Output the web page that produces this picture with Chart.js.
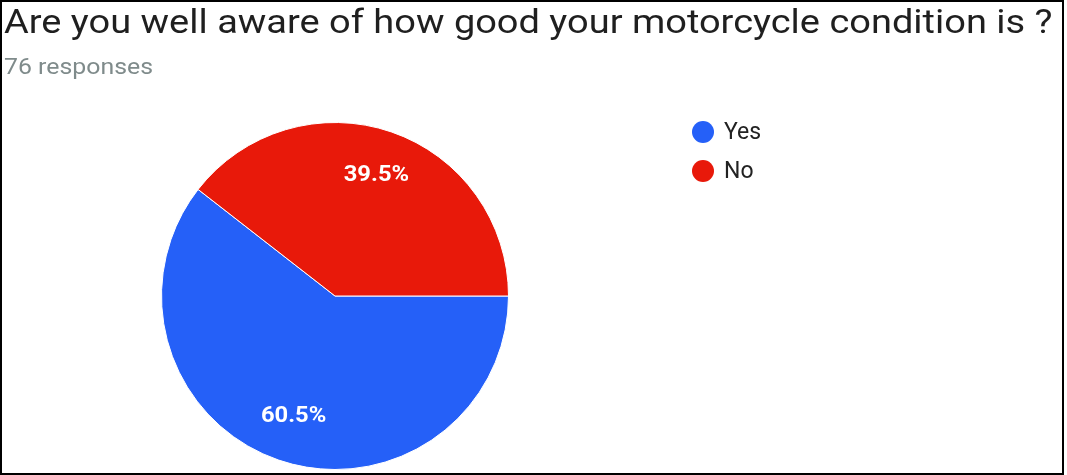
<!DOCTYPE html>
<html>
<head>
<meta charset="utf-8">
<script src="https://cdn.jsdelivr.net/npm/chart.js@4.4.0/dist/chart.umd.min.js"></script>
<style>
  html, body { margin: 0; padding: 0; background: #fff; }
  #wrap { position: relative; width: 1067px; height: 475px; overflow: hidden; }
  #frame { position: absolute; left: 0; top: 0; width: 1060px; height: 471px; border: 2px solid #000; }
  #title { position: absolute; left: 4px; top: 4px; font-family: Roboto, sans-serif; font-size: 34px; line-height: 34px; color: #1f1f1f; white-space: nowrap; transform: scaleX(1.117); transform-origin: 0 0; }
  #sub { position: absolute; left: 4px; top: 56px; font-family: Roboto, sans-serif; font-size: 22px; line-height: 22px; color: #7f8b8b; white-space: nowrap; transform: scaleX(1.13); transform-origin: 0 0; }
  .leg { position: absolute; left: 692px; height: 24px; font-family: Roboto, sans-serif; font-size: 23px; line-height: 24px; color: #222; white-space: nowrap; }
  .leg .dot { position: absolute; left: 0; top: 1px; width: 22px; height: 22px; border-radius: 50%; }
  .leg span.t { position: absolute; left: 32px; top: 0; }
  canvas { position: absolute; left: 0; top: 0; }
</style>
</head>
<body>
<div id="wrap">
  <canvas id="c" width="1067" height="475"></canvas>
  <div id="frame"></div>
  <div id="title">Are you well aware of how good your motorcycle condition is ?</div>
  <div id="sub">76 responses</div>
  <div id="legend"></div>
</div>
<script>
const categories = ["Yes", "No"];
const counts = [46, 30];
const sliceColors = ["#2560f8", "#e8190a"];

const total = counts.reduce((a, b) => a + b, 0);

// legend (HTML text)
const legendEl = document.getElementById('legend');
categories.forEach((name, i) => {
  const d = document.createElement('div');
  d.className = 'leg';
  d.style.top = (120 + i * 39) + 'px';
  d.innerHTML = '<div class="dot" style="background:' + sliceColors[i] + '"></div><span class="t">' + name + '</span>';
  legendEl.appendChild(d);
});

const pctLabels = {
  id: 'pctLabels',
  afterDatasetsDraw(chart) {
    const ctx = chart.ctx;
    const meta = chart.getDatasetMeta(0);
    meta.data.forEach((arc, i) => {
      const p = arc.getProps(['x', 'y', 'startAngle', 'endAngle', 'outerRadius'], true);
      const mid = (p.startAngle + p.endAngle) / 2;
      const r = p.outerRadius * 0.735;
      const pct = (counts[i] / total * 100).toFixed(1) + '%';
      ctx.save();
      ctx.translate(p.x + Math.cos(mid) * r, p.y + Math.sin(mid) * r);
      ctx.scale(1.08, 1);
      ctx.fillStyle = '#ffffff';
      ctx.font = 'bold 22px Roboto, "Liberation Sans", sans-serif';
      ctx.textAlign = 'center';
      ctx.textBaseline = 'middle';
      ctx.fillText(pct, 0, 0);
      ctx.restore();
    });
  }
};

new Chart(document.getElementById('c'), {
  type: 'pie',
  data: {
    labels: categories,
    datasets: [{
      data: counts,
      backgroundColor: sliceColors,
      borderColor: '#ffffff',
      borderWidth: 1
    }]
  },
  options: {
    responsive: false,
    animation: false,
    rotation: 90,
    layout: { padding: { left: 161, right: 558, top: 122, bottom: 5 } },
    plugins: {
      legend: { display: false },
      title: { display: false },
      tooltip: { enabled: false }
    }
  },
  plugins: [pctLabels]
});
</script>
</body>
</html>
